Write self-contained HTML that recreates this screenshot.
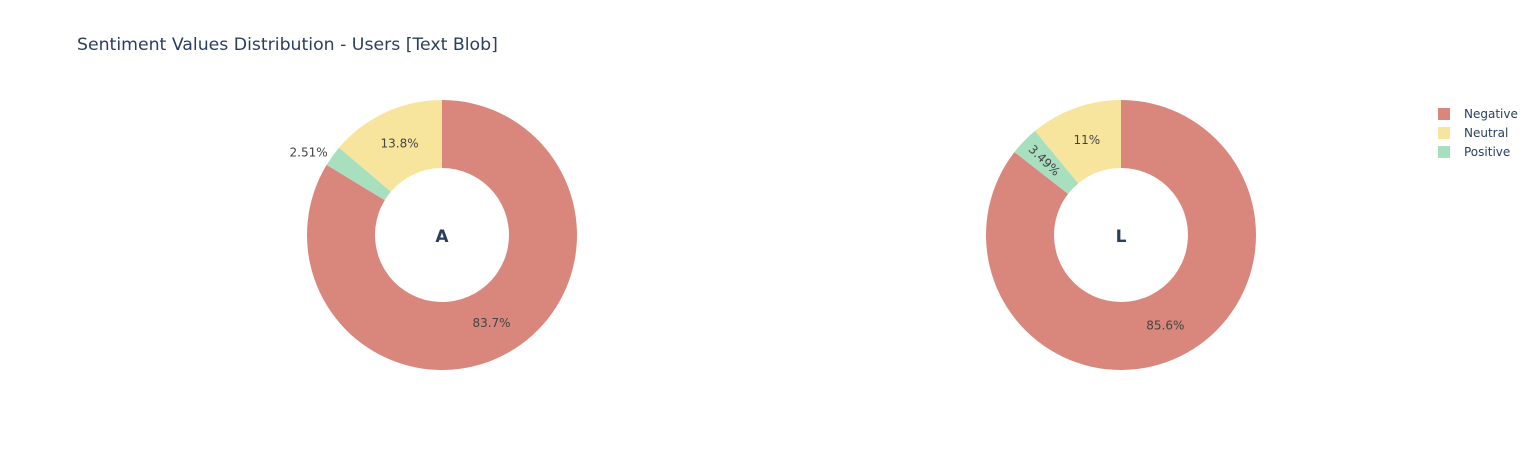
<!DOCTYPE html>
<html>
<head>
<meta charset="utf-8">
<style>
  html,body{margin:0;padding:0;background:#fff;}
  svg{display:block;font-family:"DejaVu Sans","Liberation Sans",sans-serif;}
</style>
</head>
<body>
<svg id="chart" width="1534" height="450" viewBox="0 0 1534 450" xmlns="http://www.w3.org/2000/svg">
  <rect x="0" y="0" width="1534" height="450" fill="#fff"/>
  <text x="77" y="50" font-size="17.3" fill="#2a3f5f">Sentiment Values Distribution - Users [Text Blob]</text>
  <g id="pies"></g>
  <g id="legend"></g>
</svg>
<script>
const categories = ["Negative", "Positive", "Neutral"];
const legendOrder = ["Negative", "Neutral", "Positive"];
const pieNames = ["A", "L"];
const valuesA = [83.7, 2.51, 13.8];
const valuesL = [85.6, 3.49, 11];
const labelsA = ["83.7%", "2.51%", "13.8%"];
const labelsL = ["85.6%", "3.49%", "11%"];

const colors = {Negative:"#d9877c", Neutral:"#f8e59d", Positive:"#a8dfbf"};
const NS = "http://www.w3.org/2000/svg";
const pies = document.getElementById('pies');
const centers = [[442,235],[1121,235]];
const rOut = 135, rIn = 67;

function pt(cx, cy, r, deg){
  const a = deg*Math.PI/180;
  return [cx + r*Math.sin(a), cy - r*Math.cos(a)];
}

function drawPie(idx, vals, labels){
  const [cx, cy] = centers[idx];
  const total = vals.reduce((a,b)=>a+b,0);
  const g = document.createElementNS(NS,'g');
  
  
  pies.appendChild(g);
  let start = 0;
  vals.forEach((v,i)=>{
    const sweep = v/total*360;
    const end = start + sweep;
    const large = sweep > 180 ? 1 : 0;
    const p1 = pt(cx,cy,rOut,start), p2 = pt(cx,cy,rOut,end);
    const p3 = pt(cx,cy,rIn,end), p4 = pt(cx,cy,rIn,start);
    const d = `M${p1[0]},${p1[1]} A${rOut},${rOut} 0 ${large} 1 ${p2[0]},${p2[1]} L${p3[0]},${p3[1]} A${rIn},${rIn} 0 ${large} 0 ${p4[0]},${p4[1]} Z`;
    const path = document.createElementNS(NS,'path');
    path.setAttribute('d', d);
    path.setAttribute('fill', colors[categories[i]]);
    
    
    g.appendChild(path);

    const mid = start + sweep/2;
    const t = document.createElementNS(NS,'text');
    t.setAttribute('font-size','12');
    t.setAttribute('fill','#444');
    t.textContent = labels[i];
    if (sweep >= 20) {
      const [x,y] = pt(cx,cy,(rOut+rIn)/2,mid);
      t.setAttribute('x', x); t.setAttribute('y', y+4);
      t.setAttribute('text-anchor','middle');
    } else if (idx === 0) {
      const [x,y] = pt(cx,cy,rOut+6,mid);
      t.setAttribute('x', x); t.setAttribute('y', y+4);
      t.setAttribute('text-anchor','end');
    } else {
      const [x,y] = pt(cx,cy,(rOut+rIn)/2 + 6,mid);
      t.setAttribute('x', x); t.setAttribute('y', y+4);
      t.setAttribute('text-anchor','middle');
      t.setAttribute('transform', `rotate(${mid-270} ${x} ${y})`);
    }
    
    
    g.appendChild(t);
    start = end;
  });
  const c = document.createElementNS(NS,'text');
  c.setAttribute('x', cx); c.setAttribute('y', cy+7);
  c.setAttribute('text-anchor','middle');
  c.setAttribute('font-size','17');
  c.setAttribute('font-weight','bold');
  c.setAttribute('fill','#2a3f5f');
  c.textContent = pieNames[idx];
  
  
  g.appendChild(c);
}
drawPie(0, valuesA, labelsA);
drawPie(1, valuesL, labelsL);

const legend = document.getElementById('legend');
legendOrder.forEach((name,i)=>{
  const y = 114 + i*19;
  const r = document.createElementNS(NS,'rect');
  r.setAttribute('x', 1438); r.setAttribute('y', y-6);
  r.setAttribute('width', 12); r.setAttribute('height', 12);
  r.setAttribute('fill', colors[name]);
  
  
  legend.appendChild(r);
  const t = document.createElementNS(NS,'text');
  t.setAttribute('x', 1464); t.setAttribute('y', y+4);
  t.setAttribute('font-size','12');
  t.setAttribute('fill','#2a3f5f');
  t.textContent = name;
  
  
  legend.appendChild(t);
});
</script>
</body>
</html>
